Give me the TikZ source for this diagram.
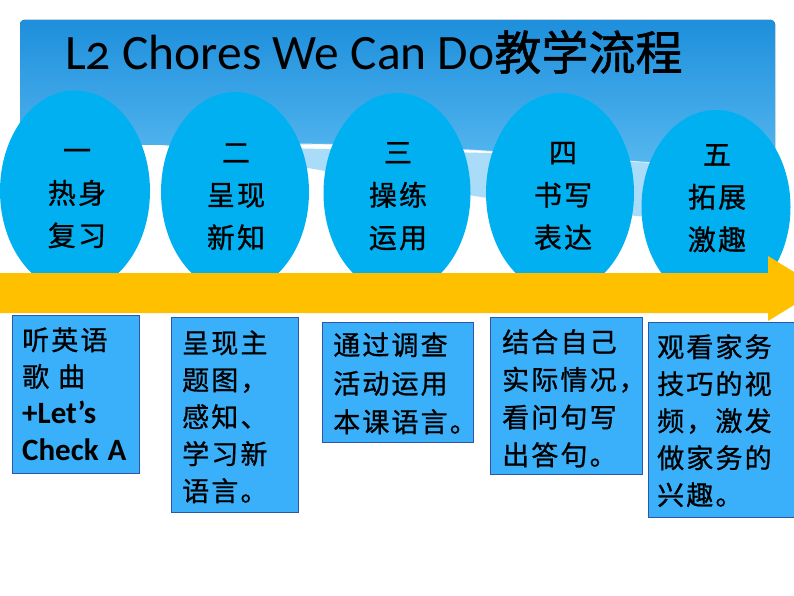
\documentclass[tikz,border=0pt]{standalone}
\usepackage{fontspec}
\setmainfont{Carlito}
\newfontfamily\cjk[LetterSpace=8, FakeBold=0.9]{Noto Sans CJK SC}
\newfontfamily\cjkt[FakeBold=1.2]{Noto Sans CJK SC}
\newfontfamily\titlefont[Numbers=OldStyle]{Carlito}
\usetikzlibrary{shapes.geometric}
\definecolor{ellc}{HTML}{00B0F0}
\definecolor{boxc}{HTML}{3AB0FA}
\definecolor{boxb}{HTML}{2F55A5}
\definecolor{arrc}{HTML}{FFC000}
\definecolor{bantop}{HTML}{1E8FDC}
\definecolor{banbot}{HTML}{58B9F0}
\definecolor{wavec}{HTML}{A8DCF8}
\begin{document}
\begin{tikzpicture}[x=1pt,y=-1pt,
  oval/.style={ellipse, fill=ellc, inner sep=0pt},
  ovaltext/.style={anchor=base, text width=130pt, align=center, inner sep=0pt,
    font=\cjk\fontsize{28}{42.5}\selectfont},
  infobox/.style={rectangle, draw=boxb, line width=1.3pt, fill=boxc, anchor=north west, inner sep=0pt},
  infotext/.style={anchor=base west, text width=160pt, align=left, inner sep=0pt,
    font=\cjk\fontsize{27}{37}\selectfont}]
\useasboundingbox (0,0) rectangle (794,596);
\clip (0,0) rectangle (794,596);
\fill[white] (0,0) rectangle (794,596);
% banner background
\fill[wavec] (160,145) .. controls (300,160) and (500,215) .. (775,225) -- (775,160) -- cycle;
\fill[top color=bantop, bottom color=banbot, rounded corners=4pt]
  (20,145) -- (20,20) -- (775,20) -- (775,172) .. controls (600,160) and (400,140) .. (250,145) -- cycle;
\draw[white, line width=1pt, opacity=0.8] (775,172) .. controls (600,160) and (400,140) .. (250,145);
% title
\node[anchor=base west, inner sep=0pt] (title) at (65,70)
  {{\titlefont\fontsize{49.5}{52}\selectfont L2 Chores We Can Do}{\cjkt\fontsize{47}{52}\selectfont 教学流程}};
% ellipses
\node[oval, minimum width=150pt, minimum height=201pt] (e1) at (75,191) {};
\node[oval, minimum width=148pt, minimum height=200pt] (e2) at (235,192) {};
\node[oval, minimum width=147pt, minimum height=200pt] (e3) at (397,193) {};
\node[oval, minimum width=148pt, minimum height=200pt] (e4) at (560,193) {};
\node[oval, minimum width=149pt, minimum height=194pt] (e5) at (716,207) {};
\node[ovaltext] (et1) at (77,161) {一\\热身\\复习};
\node[ovaltext] (et2) at (236,163) {二\\呈现\\新知};
\node[ovaltext] (et3) at (398,163) {三\\操练\\运用};
\node[ovaltext] (et4) at (563,163) {四\\书写\\表达};
\node[ovaltext] (et5) at (717,165) {五\\拓展\\激趣};
% big arrow
\fill[arrc] (0,273) -- (768,273) -- (768,256) -- (821,288.5) -- (768,321) -- (768,313) -- (0,313) -- cycle;
% boxes
\node[infobox, minimum width=127pt, minimum height=158pt] (b1) at (12,315) {};
\node[infobox, minimum width=127pt, minimum height=195pt] (b2) at (171,317) {};
\node[infobox, minimum width=151pt, minimum height=120pt] (b3) at (322,322) {};
\node[infobox, minimum width=152pt, minimum height=157pt] (b4) at (490,317) {};
\node[infobox, minimum width=155pt, minimum height=195pt] (b5) at (648,322) {};
\node[infotext, font=\cjk\fontsize{27}{36.7}\selectfont] (t1) at (22,350)
  {听英语\\歌\ 曲\\{\rmfamily\bfseries\fontsize{31}{36.7}\selectfont +Let’s}\\{\rmfamily\bfseries\fontsize{31}{36.7}\selectfont Check A}};
\node[infotext] (t2) at (182,353) {呈现主\\题图，\\感知、\\学习新\\语言。};
\node[infotext, font=\cjk\fontsize{27}{38.5}\selectfont] (t3) at (333,355) {通过调查\\活动运用\\本课语言。};
\node[infotext, font=\cjk\fontsize{27}{37.7}\selectfont] (t4) at (502,352) {结合自己\\实际情况，\\看问句写\\出答句。};
\node[infotext] (t5) at (657,357) {观看家务\\技巧的视\\频，激发\\做家务的\\兴趣。};
\end{tikzpicture}
\end{document}
